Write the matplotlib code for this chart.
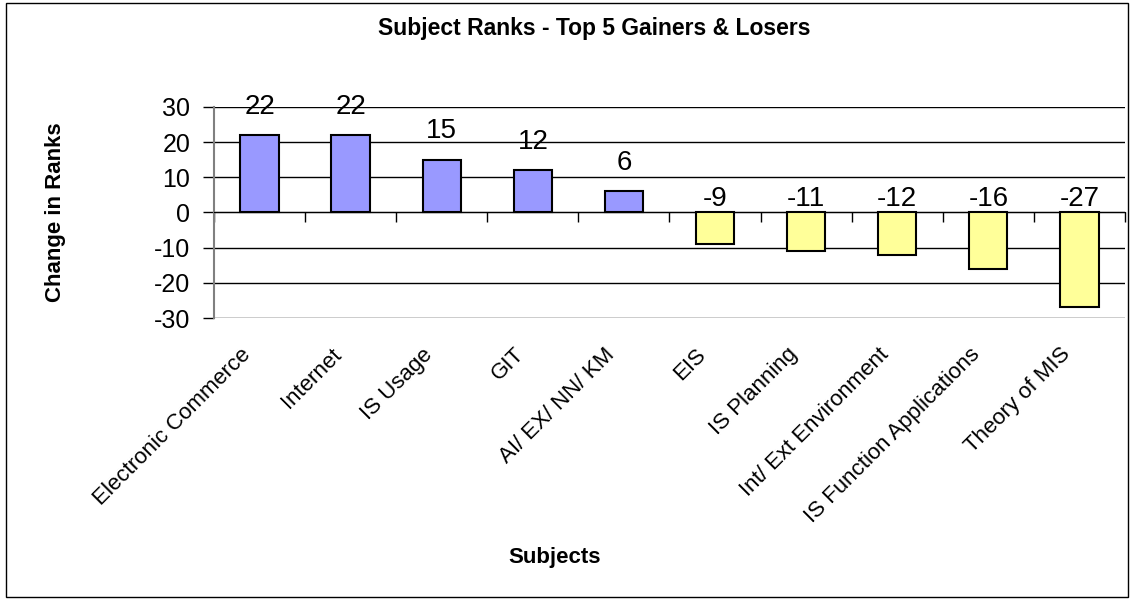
import matplotlib
matplotlib.use('Agg')
import matplotlib.pyplot as plt
from matplotlib.patches import Rectangle
from matplotlib.transforms import ScaledTranslation

subjects = ['Electronic Commerce', 'Internet', 'IS Usage', 'GIT', 'AI/ EX/ NN/ KM',
            'EIS', 'IS Planning', 'Int/ Ext Environment', 'IS Function Applications',
            'Theory of MIS']
changes = [22, 22, 15, 12, 6, -9, -11, -12, -16, -27]
yticks = [-30, -20, -10, 0, 10, 20, 30]

plt.rcParams['font.family'] = ['Liberation Sans', 'DejaVu Sans']
plt.rcParams['axes.unicode_minus'] = False

fig = plt.figure(figsize=(11.35, 6.0), dpi=100)
ax = fig.add_axes([0.1885, 0.47, 0.8027, 0.3517])

x = list(range(len(subjects)))
colors = ['#9999FF' if v > 0 else '#FFFF99' for v in changes]
ax.bar(x, changes, width=0.42, color=colors, edgecolor='black', linewidth=1.5, zorder=3)

for xi, v in zip(x, changes):
    off = 11 if v > 0 else 0
    ax.annotate(str(v), (xi, max(v, 0)), xytext=(0, off), textcoords='offset points',
                ha='center', va='bottom', fontsize=20, zorder=4)

ax.set_xlim(-0.5, len(subjects) - 0.5)
ax.set_ylim(-30, 30)
ax.set_yticks(yticks)
ax.yaxis.grid(True, color='black', linewidth=1, zorder=0)
ax.tick_params(axis='y', direction='out', length=8, width=1, labelsize=18, pad=9)

ax.spines['top'].set_visible(False)
ax.spines['right'].set_visible(False)
ax.spines['left'].set_color('#808080')
ax.spines['left'].set_linewidth(1.5)
ax.spines['bottom'].set_position(('data', 0))
ax.spines['bottom'].set_color('black')

ax.set_xticks(x)
ax.set_xticklabels(subjects, rotation=45, ha='right', va='center', rotation_mode='anchor')
ax.set_xticks([i - 0.5 for i in range(len(subjects) + 1)], minor=True)
ax.tick_params(axis='x', which='major', length=0, labelsize=16, pad=100)
ax.tick_params(axis='x', which='minor', direction='out', length=7, width=1)
for lab in ax.get_xticklabels():
    lab.set_transform(lab.get_transform() + ScaledTranslation(-12 / 100, 0, fig.dpi_scale_trans))

fig.text(594 / 1135, 1 - 28 / 600, 'Subject Ranks - Top 5 Gainers & Losers',
         ha='center', va='center', fontsize=16.5, fontweight='bold')
fig.text(555 / 1135, 1 - 558 / 600, 'Subjects', ha='center', va='center',
         fontsize=16, fontweight='bold')
fig.text(56 / 1135, 1 - 212 / 600, 'Change in Ranks', ha='center', va='center',
         rotation=90, fontsize=16, fontweight='bold')

fig.patches.append(Rectangle((6 / 1135, 3 / 600), 1122 / 1135, 594 / 600,
                             transform=fig.transFigure, fill=False,
                             edgecolor='black', linewidth=1))

plt.savefig('out.png', dpi=100)
